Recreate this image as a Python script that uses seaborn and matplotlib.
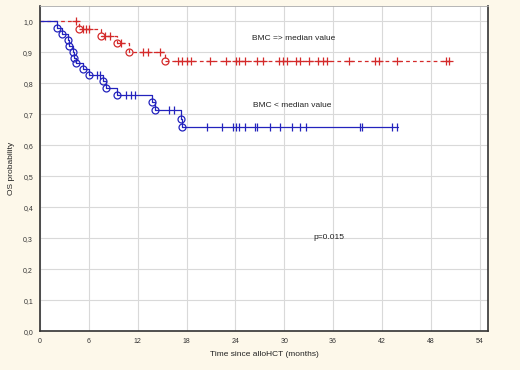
import numpy as np
import pandas as pd
import matplotlib
matplotlib.use("Agg")
import matplotlib.pyplot as plt
import seaborn as sns

# BMC => median value (red): event times, survival after each event, censored times
hi_event_t = [4.8, 7.5, 9.4, 10.9, 15.4]
hi_event_s = [0.975, 0.953, 0.929, 0.900, 0.871]
hi_censor_t = [4.4, 5.3, 5.6, 6.0, 8.0, 8.6, 9.9, 12.7, 13.3, 14.7,
               17.0, 17.4, 18.0, 18.6, 20.9, 22.9, 24.1, 24.5, 25.2, 26.6,
               27.4, 29.4, 29.9, 30.3, 31.5, 31.9, 33.0, 34.1, 34.7, 35.2,
               37.9, 41.2, 41.6, 43.8, 49.9, 50.2]
hi_end = 50.2

# BMC < median value (blue)
lo_event_t = [2.1, 2.7, 3.4, 3.5, 4.0, 4.2, 4.4, 5.3, 6.05, 7.7, 8.1, 9.5,
              13.8, 14.1, 17.3, 17.4]
lo_event_s = [0.979, 0.959, 0.939, 0.921, 0.901, 0.883, 0.866, 0.846, 0.826,
              0.807, 0.786, 0.764, 0.740, 0.713, 0.686, 0.660]
lo_censor_t = [7.0, 7.4, 10.6, 11.2, 11.7, 15.8, 16.4, 20.5, 22.3, 23.7,
               24.1, 24.5, 25.2, 26.4, 26.7, 28.2, 29.5, 31.0, 31.9, 32.7,
               39.3, 39.5, 43.2, 43.8]
lo_end = 44.0

x_ticks = [0, 6, 12, 18, 24, 30, 36, 42, 48, 54]
y_ticks = [0.0, 0.1, 0.2, 0.3, 0.4, 0.5, 0.6, 0.7, 0.8, 0.9, 1.0]


def km_frames(ev_t, ev_s, cens_t, end):
    t = np.r_[0.0, ev_t, end]
    s = np.r_[1.0, ev_s, ev_s[-1]]
    steps = pd.DataFrame({"t": t, "s": s})
    events = pd.DataFrame({"t": ev_t, "s": ev_s})
    idx = np.searchsorted(np.asarray(ev_t), np.asarray(cens_t), side="right")
    cens = pd.DataFrame({"t": cens_t, "s": np.r_[1.0, ev_s][idx]})
    return steps, events, cens


sns.set_theme(style="whitegrid")
plt.rcParams["font.family"] = ["Liberation Sans", "DejaVu Sans"]

bg = "#fdf8ea"
red = "#d42a2a"
blue = "#2323bd"

fig = plt.figure(figsize=(5.2, 3.7), dpi=100, facecolor=bg)
ax = fig.add_axes([0.077, 0.105, 0.861, 0.879])
ax.set_facecolor("white")

hi_steps, hi_ev, hi_cens = km_frames(hi_event_t, hi_event_s, hi_censor_t, hi_end)
lo_steps, lo_ev, lo_cens = km_frames(lo_event_t, lo_event_s, lo_censor_t, lo_end)

sns.lineplot(data=hi_steps, x="t", y="s", drawstyle="steps-post", estimator=None,
             color=red, linewidth=0.9, ax=ax)
ax.lines[-1].set_linestyle((0, (3, 2.5)))
sns.lineplot(data=lo_steps, x="t", y="s", drawstyle="steps-post", estimator=None,
             color=blue, linewidth=0.9, ax=ax)

ax.plot(hi_ev["t"], hi_ev["s"], "o", mfc="none", mec=red, ms=5, mew=0.9)
ax.plot(lo_ev["t"], lo_ev["s"], "o", mfc="none", mec=blue, ms=5, mew=0.9)
ax.plot(hi_cens["t"], hi_cens["s"], "+", color=red, ms=6, mew=0.9)
ax.plot(lo_cens["t"], lo_cens["s"], "|", color=blue, ms=6, mew=0.9)

ax.set_xlim(0, 55)
ax.set_ylim(0, 1.05)
ax.set_xticks(x_ticks)
ax.set_yticks(y_ticks)
ax.set_xticklabels([str(v) for v in x_ticks], fontsize=5)
ax.set_yticklabels([f"{v:.1f}".replace(".", ",") for v in y_ticks], fontsize=5)
ax.grid(True, color="#d9d9d9", linewidth=0.8)
ax.tick_params(axis="both", length=2, width=0.8, color="#333333", pad=3,
               labelcolor="#333333", direction="out")
for side in ["left", "bottom", "right"]:
    ax.spines[side].set_color("#333333")
    ax.spines[side].set_linewidth(1.2)
ax.spines["top"].set_color("#aaaaaa")
ax.spines["top"].set_linewidth(0.6)

ax.set_xlabel("Time since alloHCT (months)", fontsize=6, color="#222222", labelpad=4)
ax.set_ylabel("OS probability", fontsize=6, color="#222222", labelpad=6)

ax.text(26.0, 0.946, "BMC => median value", fontsize=6, color="#222222", va="center")
ax.text(26.2, 0.729, "BMC < median value", fontsize=6, color="#222222", va="center")
ax.text(33.6, 0.303, "p=0.015", fontsize=6, color="#222222", va="center")

fig.savefig("out.png", dpi=100, facecolor=bg)
